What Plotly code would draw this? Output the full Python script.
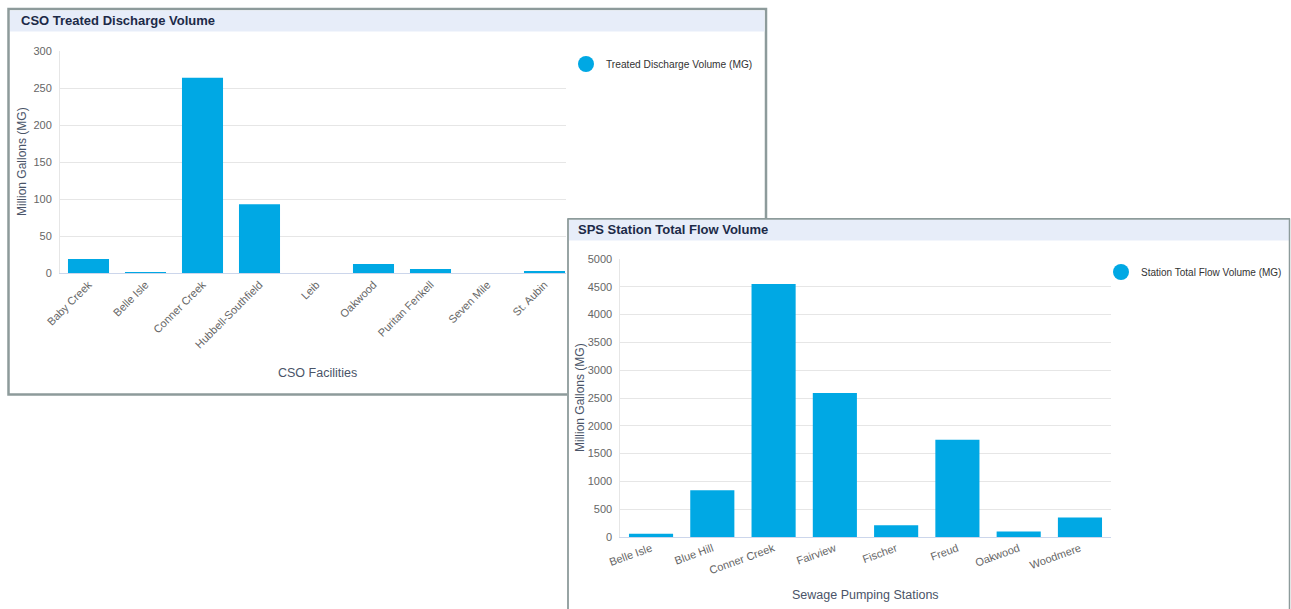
import plotly.graph_objects as go

W, H = 1291, 609


def X(x):
    return x / W


def Y(y):
    return 1 - y / H


# ---------------- data ----------------
cso_facilities = ["Baby Creek", "Belle Isle", "Conner Creek", "Hubbell-Southfield", "Leib",
                  "Oakwood", "Puritan Fenkell", "Seven Mile", "St. Aubin"]
cso_volume = [19, 0.8, 264, 93, 0, 12, 5.5, 0, 2.5]
cso_ticks = [0, 50, 100, 150, 200, 250, 300]

sps_stations = ["Belle Isle", "Blue Hill", "Conner Creek", "Fairview", "Fischer", "Freud",
                "Oakwood", "Woodmere"]
sps_volume = [60, 840, 4550, 2590, 210, 1750, 100, 350]
sps_ticks = [0, 500, 1000, 1500, 2000, 2500, 3000, 3500, 4000, 4500, 5000]

BAR = "#00a8e4"
FONT = "Liberation Sans, Arial, sans-serif"
GRID = "#e6e6e6"
LBL = "#666666"
BORDER = "#8d9b9b"
HEAD = "#e7edf9"

fig = go.Figure()

fig.add_trace(go.Bar(x=cso_facilities, y=cso_volume, marker=dict(color=BAR, line=dict(width=0)),
                     xaxis="x", yaxis="y", showlegend=False, hoverinfo="x+y"))
fig.add_trace(go.Scatter(x=[None], y=[None], mode="markers", name="Treated Discharge Volume (MG)",
                         marker=dict(symbol="circle", size=16, color=BAR),
                         xaxis="x", yaxis="y", legend="legend"))

fig.add_trace(go.Bar(x=sps_stations, y=sps_volume, marker=dict(color=BAR, line=dict(width=0)),
                     xaxis="x2", yaxis="y2", showlegend=False, hoverinfo="x+y"))
fig.add_trace(go.Scatter(x=[None], y=[None], mode="markers", name="Station Total Flow Volume (MG)",
                         marker=dict(symbol="circle", size=16, color=BAR),
                         xaxis="x2", yaxis="y2", legend="legend2"))

# category spacing for panel 1: 57 px per category, plot cut at x=566
span1 = 566 - 60
step1 = 57.0
r1 = [-0.5, -0.5 + span1 / step1]


def hline(x0, x1, y, w=2):
    return dict(type="line", xref="paper", yref="paper", x0=X(x0), x1=X(x1), y0=Y(y), y1=Y(y),
                line=dict(color=BORDER, width=w), layer="below")


def vline(x, y0, y1, w=2):
    return dict(type="line", xref="paper", yref="paper", x0=X(x), x1=X(x), y0=Y(y0), y1=Y(y1),
                line=dict(color=BORDER, width=w), layer="below")


shapes = [
    # panel 1 frame
    dict(type="rect", xref="paper", yref="paper", x0=X(8.5), x1=X(766), y0=Y(394.5), y1=Y(9),
         fillcolor="white", line=dict(color=BORDER, width=2.5), layer="below"),
    dict(type="rect", xref="paper", yref="paper", x0=X(10), x1=X(764.5), y0=Y(31.5), y1=Y(10.5),
         fillcolor=HEAD, line=dict(width=0), layer="below"),
    # panel 2 frame
    dict(type="rect", xref="paper", yref="paper", x0=X(567), x1=X(1290), y0=0, y1=Y(218),
         fillcolor="white", line=dict(width=0), layer="below"),
    dict(type="rect", xref="paper", yref="paper", x0=X(569), x1=X(1289), y0=Y(240.5), y1=Y(219.5),
         fillcolor=HEAD, line=dict(width=0), layer="below"),
    vline(568, 218.5, 609, 1.8),
    vline(1289.5, 218.5, 609, 1.5),
    hline(567.5, 1290, 218.8, 1.8),
]

annotations = [
    dict(text="<b>CSO Treated Discharge Volume</b>", xref="paper", yref="paper", x=X(19), y=Y(20.5),
         xanchor="left", yanchor="middle", showarrow=False,
         font=dict(family=FONT, size=13, color="#1c2a48")),
    dict(text="<b>SPS Station Total Flow Volume</b>", xref="paper", yref="paper", x=X(576), y=Y(229.5),
         xanchor="left", yanchor="middle", showarrow=False,
         font=dict(family=FONT, size=13, color="#1c2a48")),
    dict(text="Million Gallons (MG)", xref="paper", yref="paper", x=X(22), y=Y(162),
         xanchor="center", yanchor="middle", textangle=-90, showarrow=False,
         font=dict(family=FONT, size=12, color="#4a5468")),
    dict(text="CSO Facilities", xref="paper", yref="paper", x=X(317), y=Y(373),
         xanchor="center", yanchor="middle", showarrow=False,
         font=dict(family=FONT, size=12.5, color="#4a5468")),
    dict(text="Million Gallons (MG)", xref="paper", yref="paper", x=X(580), y=Y(398),
         xanchor="center", yanchor="middle", textangle=-90, showarrow=False,
         font=dict(family=FONT, size=12, color="#4a5468")),
    dict(text="Sewage Pumping Stations", xref="paper", yref="paper", x=X(865), y=Y(595),
         xanchor="center", yanchor="middle", showarrow=False,
         font=dict(family=FONT, size=12.5, color="#4a5468")),
]

fig.update_layout(
    width=W, height=H, autosize=False,
    margin=dict(l=0, r=0, t=0, b=0, pad=0, autoexpand=False),
    paper_bgcolor="white", plot_bgcolor="rgba(0,0,0,0)",
    font=dict(family=FONT, size=11, color=LBL),
    bargap=0.28,
    shapes=shapes,
    annotations=annotations,
    xaxis=dict(domain=[X(60), X(566)], anchor="y", range=r1, tickangle=-45, automargin=False,
               tickfont=dict(size=11, color=LBL), showgrid=False, showline=True,
               linecolor="#ccd6eb", linewidth=1, ticks="", fixedrange=True),
    yaxis=dict(domain=[Y(273), Y(51)], anchor="x", range=[0, 300], tickvals=cso_ticks,
               automargin=False,
               tickfont=dict(size=11, color=LBL), showgrid=True, gridcolor=GRID, gridwidth=1,
               showline=True, linecolor=GRID, zeroline=False, ticks="", ticklabelstandoff=5,
               fixedrange=True),
    xaxis2=dict(domain=[X(620.4), X(1110.6)], anchor="y2", range=[-0.5, len(sps_stations) - 0.5],
                automargin=False,
                tickangle=-20, tickfont=dict(size=11, color=LBL), showgrid=False, showline=True,
                linecolor="#ccd6eb", linewidth=1, ticks="", fixedrange=True),
    yaxis2=dict(domain=[Y(537), Y(259)], anchor="x2", range=[0, 5000], tickvals=sps_ticks,
                automargin=False,
                tickfont=dict(size=11, color=LBL), showgrid=True, gridcolor=GRID, gridwidth=1,
                showline=True, linecolor=GRID, zeroline=False, ticks="", ticklabelstandoff=5,
                fixedrange=True),
    legend=dict(x=X(566), y=Y(64), xanchor="left", yanchor="middle", bgcolor="rgba(0,0,0,0)",
                font=dict(family=FONT, size=10.2, color="#333333"), itemclick=False,
                itemdoubleclick=False),
    legend2=dict(x=X(1101), y=Y(272), xanchor="left", yanchor="middle", bgcolor="rgba(0,0,0,0)",
                 font=dict(family=FONT, size=10, color="#333333"), itemclick=False,
                 itemdoubleclick=False),
    hovermode="closest",
)

POST = "document.body.style.margin='0';document.body.style.overflow='hidden';"

fig.write_html("out.html", config={"displayModeBar": False}, post_script=POST)
